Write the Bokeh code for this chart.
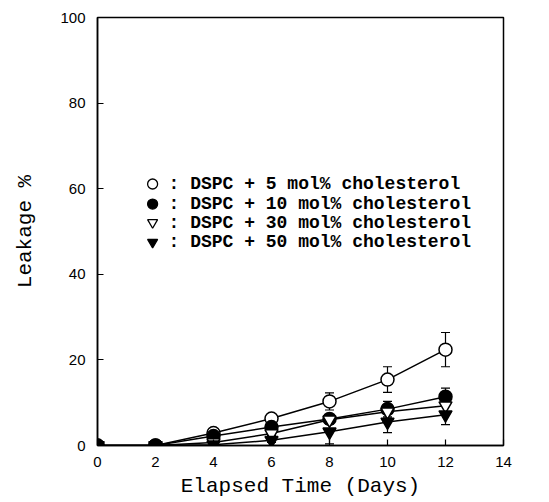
from bokeh.plotting import figure
from bokeh.models import ColumnDataSource, Whisker, TeeHead, FixedTicker, Range1d
from bokeh.core.properties import value
from bokeh.embed import file_html
from bokeh.resources import INLINE

days = [0, 2, 4, 6, 8, 10, 12]
c5 = [0, 0, 2.9, 6.3, 10.3, 15.4, 22.4]
e5 = [0, 0, 0.6, 0.8, 2.0, 3.0, 4.0]
c10 = [0, 0, 2.2, 4.3, 6.2, 8.5, 11.4]
e10 = [0, 0, 0.5, 0.8, 1.0, 1.8, 2.0]
c30 = [0, 0, 0.7, 2.8, 6.0, 7.9, 9.3]
e30 = [0, 0, 0.3, 0.5, 1.0, 1.5, 1.5]
c50 = [0, 0, 0.2, 1.2, 3.2, 5.5, 7.2]
e50 = [0, 0, 0.3, 0.5, 2.8, 2.5, 2.3]

x_ticks = [0, 2, 4, 6, 8, 10, 12, 14]
y_ticks = [0, 20, 40, 60, 80, 100]

legend_labels = [": DSPC + 5 mol% cholesterol",
                 ": DSPC + 10 mol% cholesterol",
                 ": DSPC + 30 mol% cholesterol",
                 ": DSPC + 50 mol% cholesterol"]
legend_y = [61.1, 56.4, 52.1, 47.5]
legend_marker_x = 1.9
legend_text_x = 2.45

series = [
    (c5, e5, "circle", "white"),
    (c10, e10, "circle", "black"),
    (c30, e30, "inverted_triangle", "white"),
    (c50, e50, "inverted_triangle", "black"),
]

p = figure(width=541, height=500, output_backend="svg", toolbar_location=None,
           x_range=Range1d(0, 14), y_range=Range1d(0, 100),
           min_border_left=97, min_border_right=38, min_border_top=17, min_border_bottom=54)
p.grid.visible = False
p.outline_line_color = "black"
p.outline_line_width = 1.5
p.background_fill_color = "white"
p.border_fill_color = "white"

for ax in (p.xaxis[0], p.yaxis[0]):
    ax.major_tick_in = 6
    ax.major_tick_out = 0
    ax.minor_tick_line_color = None
    ax.axis_line_width = 1.5
    ax.major_tick_line_width = 1.2
    ax.major_label_text_font = "Liberation Sans"
    ax.major_label_text_font_size = "15px"
    ax.major_label_text_color = "black"
    ax.axis_label_text_font = "Liberation Mono"
    ax.axis_label_text_font_size = "21px"
    ax.axis_label_text_font_style = "normal"
    ax.axis_label_text_color = "black"

p.xaxis.ticker = FixedTicker(ticks=x_ticks)
p.yaxis.ticker = FixedTicker(ticks=y_ticks)
p.xaxis.axis_label = "Elapsed Time (Days)"
p.yaxis.axis_label = "Leakage %"
p.xaxis.major_label_standoff = 11
p.yaxis.major_label_standoff = 12
p.xaxis.axis_label_standoff = 5
p.yaxis.axis_label_standoff = 20

for vals, errs, marker, fill in series:
    lower = [v - e for v, e in zip(vals, errs)]
    upper = [v + e for v, e in zip(vals, errs)]
    src = ColumnDataSource(dict(x=days, y=vals, lo=lower, hi=upper))
    p.line("x", "y", source=src, line_color="black", line_width=1.5)
    w = Whisker(base="x", lower="lo", upper="hi", source=src,
                line_color="black", line_width=1.2,
                upper_head=TeeHead(size=9, line_color="black", line_width=1.2),
                lower_head=TeeHead(size=9, line_color="black", line_width=1.2))
    p.add_layout(w)

for vals, errs, marker, fill in series:
    p.scatter(days, vals, marker=marker, size=13, fill_color=fill,
              line_color="black", line_width=1.5)

for (vals, errs, marker, fill), ly, lab in zip(series, legend_y, legend_labels):
    p.scatter([legend_marker_x], [ly], marker=marker, size=10, fill_color=fill,
              line_color="black", line_width=1.3)
    p.text([legend_text_x], [ly], text=[lab], text_font=value("Liberation Mono"),
           text_font_size="18px", text_font_style="bold", text_baseline="middle",
           text_color="black")

open("out.html", "w").write(file_html(p, INLINE))
